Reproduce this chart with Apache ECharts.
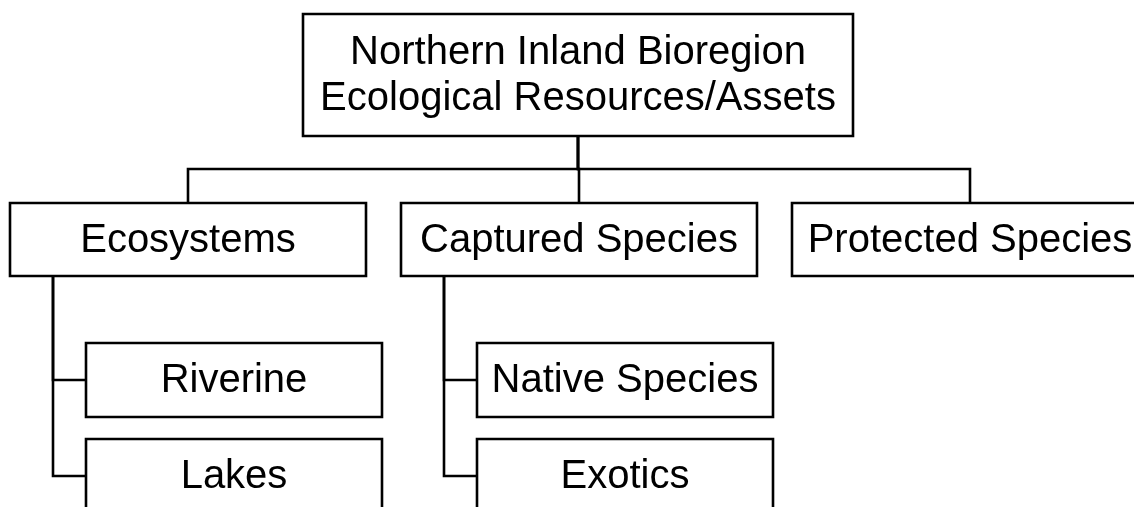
<!DOCTYPE html>
<html>
<head>
<meta charset="utf-8">
<script src="https://cdn.jsdelivr.net/npm/echarts@6/dist/echarts.min.js"></script>
<style>
  html, body { margin: 0; padding: 0; background: #fff; }
  #chart { width: 1134px; height: 507px; }
</style>
</head>
<body>
<div id="chart"></div>
<script>
// hierarchy
const nodeNames = [
  'Northern Inland Bioregion\nEcological Resources/Assets',
  'Ecosystems',
  'Captured Species',
  'Protected Species',
  'Riverine',
  'Lakes',
  'Native Species',
  'Exotics'
]
const nodeParents = [-1, 0, 0, 0, 1, 1, 2, 2]

// layout, in px of the hidden axes
const rootBox = { cx: 578, top: 14, w: 550, h: 122 }
const topRow = { left: 10, top: 203, w: 356, h: 73, gap: 35, busY: 169 }
const leafRow = { indent: 76, stem: 43, top: 343, w: 296, h: 74, gap: 22 }

function buildLayout() {
  const boxes = []
  const childCount = {}
  let col = 0
  nodeNames.forEach((name, i) => {
    const p = nodeParents[i]
    if (p === -1) {
      boxes[i] = { x: rootBox.cx - rootBox.w / 2, y: rootBox.top, w: rootBox.w, h: rootBox.h, level: 0 }
    } else if (nodeParents[p] === -1) {
      const x = topRow.left + col * (topRow.w + topRow.gap)
      boxes[i] = { x, y: topRow.top, w: topRow.w, h: topRow.h, level: 1 }
      col++
    } else {
      const k = childCount[p] || 0
      childCount[p] = k + 1
      const pb = boxes[p]
      boxes[i] = {
        x: pb.x + leafRow.indent,
        y: leafRow.top + k * (leafRow.h + leafRow.gap),
        w: leafRow.w,
        h: leafRow.h,
        level: 2
      }
    }
  })
  return boxes
}

const boxes = buildLayout()

function connectorFor(i) {
  const p = nodeParents[i]
  if (p === -1) return null
  const b = boxes[i]
  const pb = boxes[p]
  if (b.level === 1) {
    const pcx = pb.x + pb.w / 2
    const cx = b.x + b.w / 2
    return [[pcx, pb.y + pb.h], [pcx, topRow.busY], [cx, topRow.busY], [cx, b.y]]
  }
  const sx = pb.x + leafRow.stem
  const cy = b.y + b.h / 2
  return [[sx, pb.y + pb.h], [sx, cy], [b.x, cy]]
}

const chart = echarts.init(document.getElementById('chart'), null, { renderer: 'canvas' })

const font = '"Liberation Sans", Arial, Helvetica, sans-serif'
const lineW = 2.6

chart.setOption({
  animation: false,
  backgroundColor: '#ffffff',
  grid: { left: 0, right: 0, top: 0, bottom: 0 },
  xAxis: { type: 'value', min: 0, max: 1134, show: false },
  yAxis: { type: 'value', min: 0, max: 507, inverse: true, show: false },
  series: [{
    type: 'custom',
    clip: false,
    data: nodeNames.map((n, i) => [i]),
    renderItem: (params, api) => {
      const i = params.dataIndex
      const b = boxes[i]
      const p0 = api.coord([b.x, b.y])
      const p1 = api.coord([b.x + b.w, b.y + b.h])
      const children = []
      const conn = connectorFor(i)
      if (conn) {
        children.push({
          type: 'polyline',
          shape: { points: conn.map(pt => api.coord(pt)) },
          style: { stroke: '#000', lineWidth: lineW, fill: null }
        })
      }
      children.push({
        type: 'rect',
        shape: { x: p0[0], y: p0[1], width: p1[0] - p0[0], height: p1[1] - p0[1] },
        style: { fill: '#fff', stroke: '#000', lineWidth: lineW }
      })
      children.push({
        type: 'text',
        style: {
          text: nodeNames[i],
          x: (p0[0] + p1[0]) / 2,
          y: (p0[1] + p1[1]) / 2 + 1,
          align: 'center',
          verticalAlign: 'middle',
          fontSize: 40,
          fontFamily: font,
          lineHeight: 46,
          fill: '#000'
        }
      })
      return { type: 'group', children }
    }
  }]
})
</script>
</body>
</html>
